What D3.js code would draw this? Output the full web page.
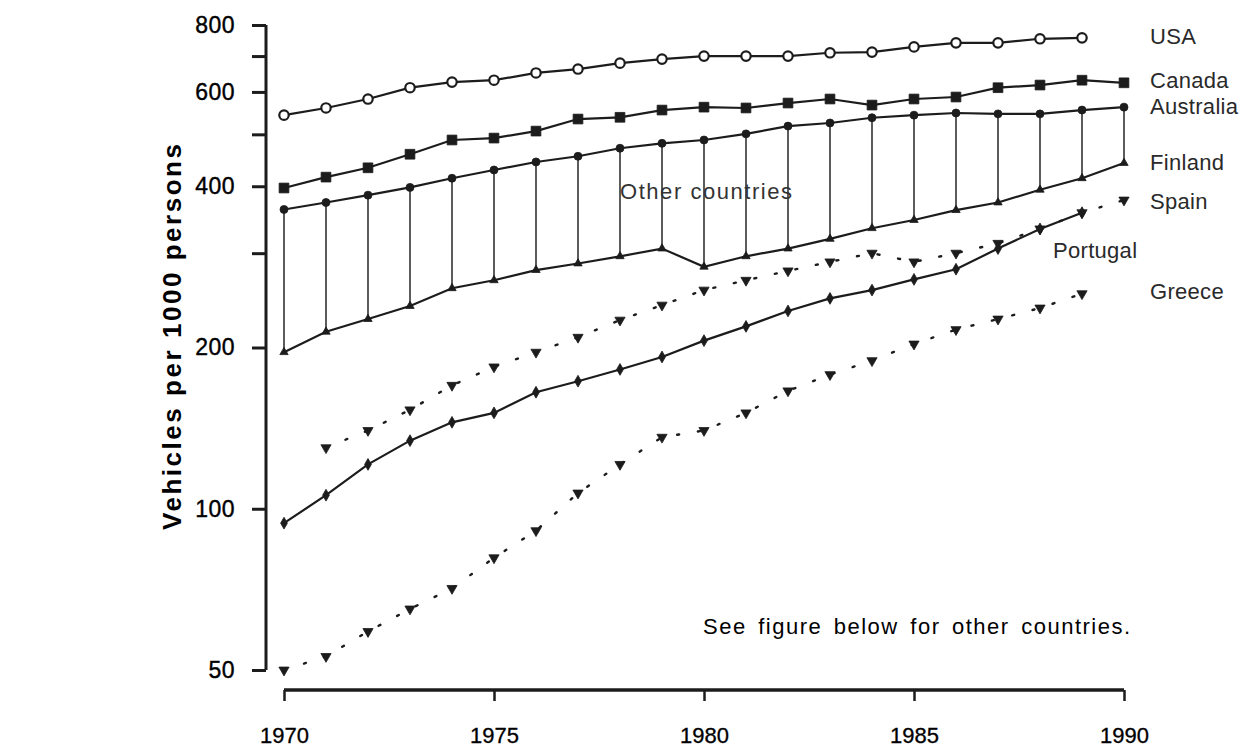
<!DOCTYPE html>
<html>
<head>
<meta charset="utf-8">
<script src="https://cdn.jsdelivr.net/npm/d3@7"></script>
<style>
  body { margin: 0; background: #fff; }
  text { font-family: "Liberation Sans", Arial, sans-serif; }
</style>
</head>
<body>
<div id="chart"></div>
<script>
// Data (vehicles per 1000 persons)
var years = d3.range(1970, 1991);
var usa       = [543, 560, 582, 611, 626, 631, 651, 662, 679, 691, 700, 700, 700, 710, 712, 728, 741, 741, 754, 757, null];
var canada    = [397, 416, 433, 459, 488, 492, 507, 534, 538, 555, 562, 560, 572, 582, 567, 582, 587, 611, 618, 631, 624];
var australia = [362, 373, 385, 398, 414, 429, 444, 455, 471, 481, 488, 501, 518, 525, 537, 543, 548, 546, 546, 555, 562];
var finland   = [196, 214, 226, 239, 258, 267, 279, 287, 296, 306, 283, 296, 306, 319, 334, 346, 361, 373, 394, 414, 442];
var spain     = [null, 130, 140, 153, 170, 184, 196, 209, 225, 240, 256, 267, 278, 289, 300, 289, 300, 313, 333, 357, 377];
var portugal  = [94, 106, 121, 134, 145, 151, 165, 173, 182, 192, 206, 219, 234, 247, 256, 268, 280, 306, 333, 357, null];
var greece    = [50, 53, 59, 65, 71, 81, 91, 107, 121, 136, 140, 151, 166, 178, 189, 203, 216, 226, 237, 252, null];

var yTicks = [50, 100, 200, 300, 400, 500, 600, 700, 800];
var yLabelled = [50, 100, 200, 400, 600, 800];
var xTicks = [1970, 1975, 1980, 1985, 1990];

var svgWidth = 1256;
var svgHeight = 752;

var svg = d3.select("#chart")
  .append("svg")
  .attr("width", svgWidth)
  .attr("height", svgHeight);

// scales
var xScale = d3.scaleLinear().domain([1970, 1990]).range([284, 1124]);
var yScale = d3.scaleLog().domain([50, 800]).range([670, 25]);

var ink = "#1c1c1c";

// y axis
var leftAxis = d3.axisLeft(yScale)
  .tickValues(yTicks)
  .tickSize(14)
  .tickPadding(17)
  .tickFormat(d => yLabelled.indexOf(d) >= 0 ? d : "");
var yAxisG = svg.append("g")
  .attr("transform", "translate(266,0)")
  .call(leftAxis);
yAxisG.select(".domain").attr("d", "M0," + yScale(800) + "V" + yScale(50)).attr("stroke", ink).attr("stroke-width", 3);
yAxisG.selectAll(".tick line").attr("stroke", ink).attr("stroke-width", 3);
yAxisG.selectAll(".tick text")
  .attr("fill", "#000")
  .attr("stroke", "#000")
  .attr("stroke-width", 0.4)
  .style("font-size", "23px")
  .style("letter-spacing", "0.5px");

// x axis
var bottomAxis = d3.axisBottom(xScale)
  .tickValues(xTicks)
  .tickSize(11)
  .tickPadding(26)
  .tickFormat(d3.format("d"));
var xAxisG = svg.append("g")
  .attr("transform", "translate(0,690)")
  .call(bottomAxis);
xAxisG.select(".domain").attr("d", "M" + xScale(1970) + ",0H" + xScale(1990)).attr("stroke", ink).attr("stroke-width", 3.5);
xAxisG.selectAll(".tick line").attr("stroke", ink).attr("stroke-width", 2.5);
xAxisG.selectAll(".tick text")
  .attr("fill", "#000")
  .attr("stroke", "#000")
  .attr("stroke-width", 0.3)
  .style("font-size", "22px");

// y axis title
svg.append("text")
  .attr("transform", "translate(181,337) rotate(-90)")
  .attr("text-anchor", "middle")
  .attr("textLength", 386)
  .attr("lengthAdjust", "spacing")
  .style("font-size", "26px")
  .style("font-weight", "bold")
  .attr("fill", "#000")
  .text("Vehicles per 1000 persons");

// range band of other countries: verticals between Australia and Finland
svg.append("g").selectAll("line")
  .data(years)
  .enter()
  .append("line")
  .attr("x1", d => xScale(d))
  .attr("x2", d => xScale(d))
  .attr("y1", (d, i) => yScale(australia[i]))
  .attr("y2", (d, i) => yScale(finland[i]))
  .attr("stroke", "#333")
  .attr("stroke-width", 1.6);

function drawSeries(values, opts) {
  var pts = years.map((yr, i) => ({ year: yr, v: values[i] })).filter(d => d.v != null);
  var line = d3.line().x(d => xScale(d.year)).y(d => yScale(d.v));
  svg.append("path")
    .datum(pts)
    .attr("d", line)
    .attr("fill", "none")
    .attr("stroke", ink)
    .attr("stroke-width", opts.width || 2.2)
    .attr("stroke-dasharray", opts.dash || null)
    .attr("stroke-linecap", "round");
  svg.append("g").selectAll("path")
    .data(pts)
    .enter()
    .append("path")
    .attr("transform", d => "translate(" + xScale(d.year) + "," + yScale(d.v) + ")" + (opts.rotate ? " rotate(180)" : ""))
    .attr("d", d3.symbol().type(opts.symbol).size(opts.size))
    .attr("fill", opts.open ? "#fff" : ink)
    .attr("stroke", ink)
    .attr("stroke-width", opts.open ? 2.2 : 0.8);
}

drawSeries(usa, { symbol: d3.symbolCircle, size: 70, open: true });
drawSeries(canada, { symbol: d3.symbolSquare, size: 95 });
drawSeries(australia, { symbol: d3.symbolCircle, size: 50 });
drawSeries(finland, { symbol: d3.symbolTriangle, size: 30 });
drawSeries(spain, { symbol: d3.symbolTriangle, size: 45, rotate: true, dash: "2,19", width: 2.4 });
drawSeries(portugal, { symbol: d3.symbolDiamond, size: 40 });
drawSeries(greece, { symbol: d3.symbolTriangle, size: 45, rotate: true, dash: "2,19", width: 2.4 });

// series labels
var labelNames = ["USA", "Canada", "Australia", "Finland", "Spain", "Portugal", "Greece"];
var labelX = [1150, 1150, 1150, 1150, 1150, 1053, 1150];
var labelY = [36, 80, 106, 162, 201, 250, 291];
svg.append("g").selectAll("text")
  .data(labelNames)
  .enter()
  .append("text")
  .attr("x", (d, i) => labelX[i])
  .attr("y", (d, i) => labelY[i])
  .attr("dy", "0.35em")
  .attr("fill", "#2a2a2a")
  .style("font-size", "22px")
  .style("letter-spacing", "0.3px")
  .text(d => d);

svg.append("text")
  .attr("x", 620)
  .attr("y", 191)
  .attr("dy", "0.35em")
  .attr("fill", "#333")
  .attr("textLength", 172)
  .attr("lengthAdjust", "spacing")
  .style("font-size", "22px")
  .text("Other countries");

svg.append("text")
  .attr("x", 703)
  .attr("y", 626)
  .attr("dy", "0.35em")
  .attr("fill", "#000")
  .attr("textLength", 427)
  .attr("lengthAdjust", "spacing")
  .style("font-size", "22px")
  .style("word-spacing", "4px")
  .text("See figure below for other countries.");
</script>
</body>
</html>
